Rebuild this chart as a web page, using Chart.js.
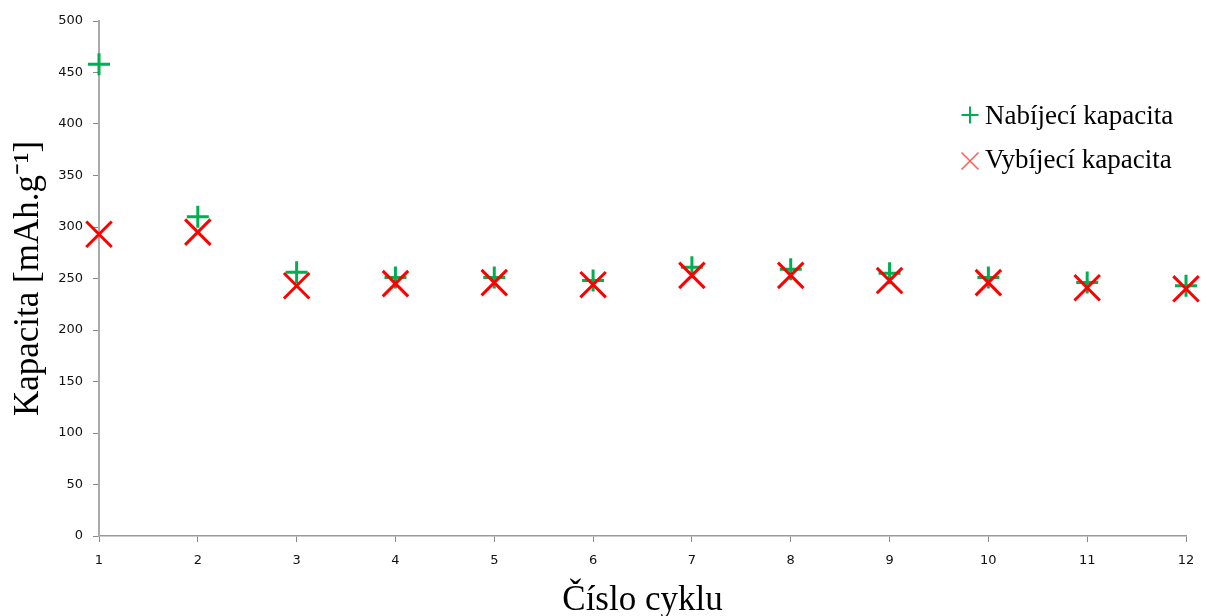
<!DOCTYPE html>
<html>
<head>
<meta charset="utf-8">
<script src="https://cdn.jsdelivr.net/npm/chart.js@4.4.0/dist/chart.umd.min.js"></script>
<style>
  html, body { margin: 0; padding: 0; background: #fff; }
  #wrap { width: 1207px; height: 616px; }
</style>
</head>
<body>
<div id="wrap"><canvas id="myChart" width="1207" height="616"></canvas></div>
<script>
// cycle number and the two capacities (mAh/g)
const cycles = [1, 2, 3, 4, 5, 6, 7, 8, 9, 10, 11, 12];
const charge = [458, 310, 256, 251, 251, 248, 261, 259, 255, 251, 246, 243];
const discharge = [293, 295, 243, 245, 246, 244, 253, 253, 248, 246, 241, 240];
const labels = ['Nabíjecí kapacita', 'Vybíjecí kapacita'];

const green = '#00b050';
const red = '#ff0000';
const serif = '"Liberation Serif", "Times New Roman", serif';
const sans = '"DejaVu Sans", Tahoma, sans-serif';

const toPoints = (vals) => cycles.map((c, i) => ({ x: c, y: vals[i] }));

// legend drawn inside the plot, top right
const insideLegend = {
  id: 'insideLegend',
  afterDraw(chart) {
    const ctx = chart.ctx;
    const items = [
      { ds: chart.data.datasets[0], y: 115, base: 124, radius: 8.5, width: 2, color: green },
      { ds: chart.data.datasets[1], y: 161, base: 168, radius: 12, width: 1.5, color: 'rgba(255,0,0,0.65)' }
    ];
    ctx.save();
    items.forEach(it => {
      ctx.strokeStyle = it.color;
      ctx.fillStyle = 'rgba(0,0,0,0)';
      ctx.lineWidth = it.width;
      Chart.helpers.drawPoint(ctx, { pointStyle: it.ds.pointStyle, radius: it.radius, rotation: 0, borderWidth: it.width }, 970, it.y);
      ctx.fillStyle = '#000';
      ctx.font = '27px ' + serif;
      ctx.textBaseline = 'alphabetic';
      ctx.fillText(it.ds.label, 985, it.base);
    });
    ctx.restore();
  }
};

const ctx = document.getElementById('myChart').getContext('2d');
let myChart = new Chart(ctx, {
  type: 'scatter',
  data: {
    datasets: [
      {
        label: labels[0],
        data: toPoints(charge),
        pointStyle: 'cross',
        pointRadius: 11,
        borderColor: green,
        backgroundColor: green,
        pointBorderWidth: 3,
        order: 1,
        clip: false
      },
      {
        label: labels[1],
        data: toPoints(discharge),
        pointStyle: 'crossRot',
        pointRadius: 18,
        borderColor: red,
        backgroundColor: red,
        pointBorderWidth: 3,
        order: 0,
        clip: false
      }
    ]
  },
  options: {
    responsive: false,
    animation: false,
    layout: { padding: { top: 20, right: 16, left: 0, bottom: 0 } },
    plugins: {
      legend: { display: false },
      tooltip: { enabled: false }
    },
    scales: {
      x: {
        type: 'linear',
        min: 1,
        max: 12,
        afterFit: (s) => { s.height = 80; },
        ticks: { stepSize: 1, color: '#111', font: { family: sans, size: 13 }, padding: 11 },
        grid: { drawOnChartArea: false, drawTicks: true, tickLength: 6, color: '#888' },
        border: { color: '#999', width: 1.5 },
        title: {
          display: true,
          text: 'Číslo cyklu',
          color: '#000',
          font: { family: serif, size: 35, lineHeight: 0.85 },
          padding: { top: 0, bottom: 0 }
        }
      },
      y: {
        min: 0,
        max: 500,
        afterFit: (s) => { s.width = 99; },
        ticks: { stepSize: 50, color: '#111', font: { family: sans, size: 13 }, padding: 10 },
        grid: { drawOnChartArea: false, drawTicks: true, tickLength: 6, color: '#888' },
        border: { color: '#aaa', width: 2 },
        title: {
          display: true,
          text: 'Kapacita [mAh.g⁻¹]',
          color: '#000',
          font: { family: serif, size: 35 },
          padding: { top: 8, bottom: 0 }
        }
      }
    }
  },
  plugins: [insideLegend]
});
</script>
</body>
</html>
